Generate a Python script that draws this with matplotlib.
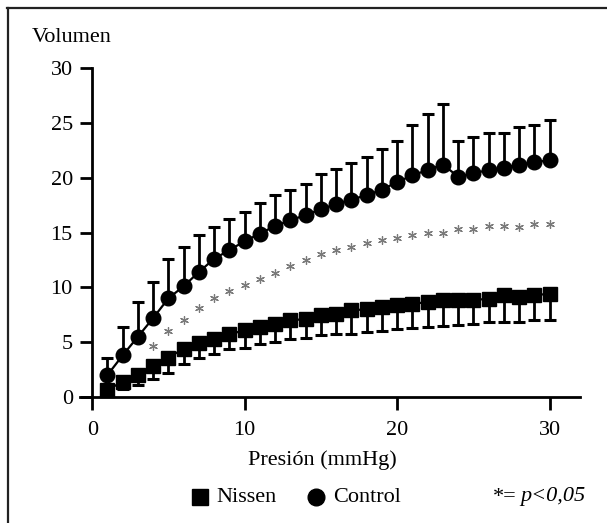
import matplotlib
matplotlib.use("Agg")
import matplotlib.pyplot as plt
from matplotlib.lines import Line2D

# presión (mmHg)
presion = list(range(1, 31))

# Control: media y límite superior de la barra de error
control_media = [2.0, 3.8, 5.5, 7.2, 9.0, 10.1, 11.4, 12.6, 13.4, 14.2,
                 14.9, 15.6, 16.1, 16.6, 17.1, 17.6, 18.0, 18.4, 18.9, 19.6,
                 20.2, 20.7, 21.2, 20.1, 20.4, 20.7, 20.9, 21.2, 21.4, 21.6]
control_sup = [3.6, 6.4, 8.7, 10.5, 12.6, 13.7, 14.8, 15.5, 16.2, 16.9,
               17.7, 18.4, 18.9, 19.4, 20.3, 20.8, 21.3, 21.9, 22.6, 23.3,
               24.8, 25.8, 26.7, 23.3, 23.7, 24.1, 24.1, 24.6, 24.8, 25.3]

# Nissen: media y límite inferior de la barra de error
nissen_media = [0.65, 1.4, 2.0, 2.8, 3.6, 4.4, 4.9, 5.3, 5.7, 6.1,
                6.4, 6.7, 7.0, 7.1, 7.5, 7.6, 7.9, 8.0, 8.2, 8.35,
                8.5, 8.65, 8.8, 8.85, 8.85, 8.95, 9.3, 9.1, 9.3, 9.4]
nissen_inf = [0.4, 0.7, 1.1, 1.6, 2.2, 3.0, 3.6, 3.9, 4.35, 4.5,
              4.8, 5.05, 5.3, 5.35, 5.65, 5.75, 5.75, 5.95, 6.05, 6.2,
              6.25, 6.35, 6.5, 6.6, 6.7, 6.8, 6.8, 6.8, 7.0, 7.0]

# asteriscos de significación (p<0,05)
sig_x = list(range(4, 31))
sig_y = [4.65, 6.05, 7.0, 8.1, 9.0, 9.7, 10.2, 10.8, 11.3, 11.9,
         12.5, 13.0, 13.4, 13.7, 14.0, 14.3, 14.5, 14.8, 14.95, 14.95,
         15.3, 15.3, 15.6, 15.55, 15.5, 15.8, 15.8]

plt.rcParams["font.family"] = ["Liberation Serif", "DejaVu Serif"]

W, H = 607, 523
fig = plt.figure(figsize=(W / 100, H / 100), dpi=100)

# marco (solo izquierda y arriba)
fig.add_artist(Line2D([7.5 / W, 7.5 / W], [0, 1 - 8 / H], color="#222222", lw=1.6,
                      transform=fig.transFigure))
fig.add_artist(Line2D([7 / W, 1], [1 - 8 / H, 1 - 8 / H], color="#222222", lw=1.6,
                      transform=fig.transFigure))

ax = fig.add_axes([80 / W, 1 - 397 / H, 500 / W, 329 / H])
ax.set_xlim(-0.8, 32)
ax.set_ylim(0, 30)

c_err = [cs - cm for cs, cm in zip(control_sup, control_media)]
n_err = [nm - ni for nm, ni in zip(nissen_media, nissen_inf)]

ax.errorbar(presion, control_media, yerr=[[0] * len(c_err), c_err], fmt="none",
            ecolor="black", elinewidth=2, capsize=4.5, capthick=2.2, zorder=2, clip_on=False)
ax.plot(presion, control_media, "-o", color="black", lw=1.6, ms=10.5, zorder=3, clip_on=False)

ax.errorbar(presion, nissen_media, yerr=[n_err, [0] * len(n_err)], fmt="none",
            ecolor="black", elinewidth=2, capsize=4.5, capthick=2.2, zorder=2, clip_on=False)
ax.plot(presion, nissen_media, "-s", color="black", lw=1.6, ms=9.5, zorder=3, clip_on=False)

ax.scatter(sig_x, sig_y, marker=(6, 2, 0), s=32, color="#7a7a7a", linewidths=0.9, zorder=2)

for s in ["top", "right"]:
    ax.spines[s].set_visible(False)
ax.spines["left"].set_position(("data", 0))
ax.spines["left"].set_bounds(0, 30)
ax.spines["left"].set_linewidth(2)
ax.spines["bottom"].set_linewidth(2)
ax.set_xticks([0, 10, 20, 30])
ax.set_yticks([0, 5, 10, 15, 20, 25, 30])
ax.tick_params(axis="both", width=2, length=9, labelsize=16, color="black")
ax.tick_params(axis="x", pad=8)
ax.tick_params(axis="y", pad=5)

fig.text(72 / W, 1 - 38 / H, "Volumen", ha="center", va="center", fontsize=16)
fig.text(322 / W, 1 - 460 / H, "Presión (mmHg)", ha="center", va="center", fontsize=16)

# leyenda
fig.add_artist(Line2D([200 / W], [1 - 497 / H], marker="s", ms=11, color="black",
                      transform=fig.transFigure))
fig.text(216 / W, 1 - 497 / H, "Nissen", ha="left", va="center", fontsize=16)
fig.add_artist(Line2D([316 / W], [1 - 497 / H], marker="o", ms=12, color="black",
                      transform=fig.transFigure))
fig.text(333 / W, 1 - 497 / H, "Control", ha="left", va="center", fontsize=16)
fig.text(493 / W, 1 - 497 / H, "*=", ha="left", va="center", fontsize=16)
fig.text(585 / W, 1 - 497 / H, "p<0,05", ha="right", va="center", fontsize=16,
         fontstyle="italic")

fig.savefig("out.png", dpi=100)
